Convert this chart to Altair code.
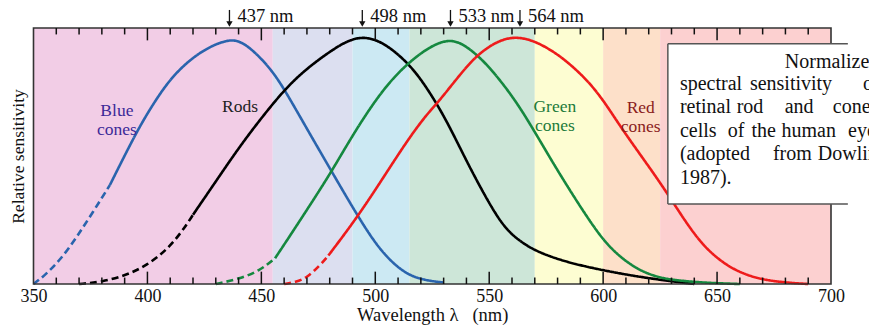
import altair as alt
import pandas as pd

FONT = "Liberation Serif"
X_DOMAIN = [350, 700]
Y_TOP = 1.036

# ---- colour bands (nm) ----
band_start = [350, 455, 490, 515, 570, 600, 625]
band_end = [455, 490, 515, 570, 600, 625, 700]
band_names = ["violet", "indigo", "blue", "green", "yellow", "orange", "red"]
band_colors = ["#f2cde6", "#dcdff0", "#cce9f3", "#cde6d8", "#fdfdd2", "#fde0c9", "#fcd0d0"]

# ---- sensitivity curves ----
cones = ["Blue", "Rods", "Green", "Red"]
line_colors = ["#2a64ad", "#000000", "#15883f", "#ee1b1b"]
label_colors = ["#3c2a98", "#222222", "#1b7a3a", "#8a1c1c"]

blue_wl = [350, 355, 362, 369, 376, 383.5, 390, 397, 404, 410, 417, 426, 436, 441, 445, 450, 455,
           460, 470, 481, 492, 502, 512, 520, 530]
blue_v = [0.0, 0.035, 0.10, 0.19, 0.29, 0.40, 0.52, 0.645, 0.75, 0.828, 0.895, 0.956, 0.992, 0.98,
          0.955, 0.912, 0.858, 0.79, 0.628, 0.453, 0.279, 0.135, 0.048, 0.017, 0.006]
blue_dash_end = 383.5

rods_wl = [370, 380, 391, 400, 408.5, 415, 420, 430, 440, 449.4, 460.4, 470, 481, 488, 494, 500, 506,
           513.7, 520, 527, 533, 541.5, 551.8, 558, 564, 571, 584, 600, 615, 629, 640]
rods_v = [0.0, 0.008, 0.036, 0.077, 0.138, 0.21, 0.28, 0.415, 0.55, 0.665, 0.79, 0.873, 0.947,
          0.985, 1.0, 0.99, 0.96, 0.90, 0.83, 0.73, 0.63, 0.47, 0.295, 0.215, 0.17, 0.13, 0.088,
          0.055, 0.03, 0.012, 0.0]
rods_dash_end = 420

green_wl = [430, 440, 449, 456, 464, 472.8, 480.8, 491.8, 503.5, 513.7, 524, 532, 538, 545, 551.8,
            562, 571, 578, 585, 593, 600, 607, 615, 622, 629, 640, 650, 660]
green_v = [0.0, 0.02, 0.052, 0.104, 0.215, 0.34, 0.455, 0.63, 0.79, 0.89, 0.962, 0.99, 0.975, 0.925,
           0.86, 0.738, 0.60, 0.49, 0.385, 0.27, 0.178, 0.112, 0.06, 0.033, 0.018, 0.008, 0.003, 0.0]
green_dash_end = 456

red_wl = [460, 465, 470, 475.7, 479.4, 491.8, 503.5, 513.7, 522, 527, 532.7, 537, 544.4, 551.8, 557,
          563, 571, 580, 586, 593, 600, 607, 615, 622, 629, 637, 644, 651, 658, 667, 678, 690]
red_v = [0.0, 0.008, 0.025, 0.075, 0.115, 0.266, 0.43, 0.576, 0.68, 0.73, 0.795, 0.845, 0.925, 0.972,
         0.993, 1.0, 0.98, 0.93, 0.885, 0.825, 0.745, 0.645, 0.54, 0.45, 0.355, 0.24, 0.155, 0.097,
         0.055, 0.023, 0.007, 0.0]
red_dash_end = 479.4

# ---- in-plot labels ----
label_text = ["Blue\ncones", "Rods", "Green\ncones", "Red\ncones"]
label_wl = [386.6, 440.6, 578.8, 616.5]
label_v = [0.70, 0.717, 0.718, 0.714]

# ---- peak annotations ----
peak_text = ["437 nm", "498 nm", "533 nm", "564 nm"]
peak_arrow_wl = [436, 494.3, 533, 563.5]

# ---- axis ticks ----
tick_values = list(range(360, 700, 10))
major_values = [400, 450, 500, 550, 600, 650]
axis_labels = [350, 400, 450, 500, 550, 600, 650, 700]

# ---- caption box ----
box_left, box_right, box_line_end = 628.4, 740, 707.4
box_bottom, box_top = 0.324, 0.972
box_words = ["Normalized",
             "spectral", "sensitivity", "of",
             "retinal", "rod", "and", "cone",
             "cells", "of", "the", "human", "eye",
             "(adopted", "from", "Dowling,",
             "1987)."]
box_word_wl = [679.75,
               633.7, 664.4, 714.0,
               633.7, 658.6, 679.7, 700.8,
               633.7, 654.7, 665.1, 678.3, 707.5,
               633.7, 674.5, 694.2,
               633.7]
box_word_line = [0, 1, 1, 1, 2, 2, 2, 2, 3, 3, 3, 3, 3, 4, 4, 4, 5]
box_line_v = [0.900, 0.808, 0.716, 0.621, 0.526, 0.429]

# ---------------------------------------------------------------
xs = alt.Scale(domain=X_DOMAIN, nice=False, zero=False)
ys = alt.Scale(domain=[0, Y_TOP], nice=False, zero=False)

x_axis = alt.Axis(
    values=axis_labels, format="d", title="Wavelength λ\u00a0\u00a0\u00a0(nm)",
    ticks=False, domain=False, grid=False, labelFlush=False, labelFont=FONT, labelFontSize=18,
    labelColor="#111", labelPadding=3, titleFont=FONT, titleFontSize=18.5,
    titleFontWeight="normal", titleColor="#111", titlePadding=0)
y_axis = alt.Axis(
    title="Relative sensitivity", labels=False, ticks=False, domain=False, grid=False,
    titleFont=FONT, titleFontSize=17.5, titleFontWeight="normal", titleColor="#111",
    titlePadding=6)


def X(field):
    return alt.X(field, type="quantitative", scale=xs, axis=x_axis)


def Y(field):
    return alt.Y(field, type="quantitative", scale=ys, axis=y_axis)


bands_df = pd.DataFrame({"start": band_start, "end": band_end, "band": band_names,
                         "y0": 0.0, "y1": Y_TOP})
bands = alt.Chart(bands_df).mark_rect(strokeWidth=0).encode(
    x=X("start"), x2="end", y=Y("y0"), y2="y1",
    color=alt.Color("band:N", scale=alt.Scale(domain=band_names, range=band_colors), legend=None),
)

rows = []
for name, wl, v, dash_end in [("Blue", blue_wl, blue_v, blue_dash_end),
                              ("Rods", rods_wl, rods_v, rods_dash_end),
                              ("Green", green_wl, green_v, green_dash_end),
                              ("Red", red_wl, red_v, red_dash_end)]:
    for w, val in zip(wl, v):
        if w <= dash_end:
            rows.append({"wl": w, "v": val, "cone": name, "part": "dashed"})
        if w >= dash_end:
            rows.append({"wl": w, "v": val, "cone": name, "part": "solid"})
curve_df = pd.DataFrame(rows)

curves = alt.Chart(curve_df).mark_line(strokeWidth=2.6, interpolate="basis").encode(
    x=X("wl"), y=Y("v"),
    color=alt.Color("cone:N", scale=alt.Scale(domain=cones, range=line_colors), legend=None),
    strokeDash=alt.StrokeDash("part:N", scale=alt.Scale(domain=["solid", "dashed"],
                                                         range=[[1, 0], [7, 4]]), legend=None),
    order="wl:Q",
)

frame = alt.Chart(pd.DataFrame({"x0": [X_DOMAIN[0]], "x1": [X_DOMAIN[1]],
                                "y0": [0.0], "y1": [Y_TOP]})).mark_rect(
    fillOpacity=0, stroke="#333333", strokeWidth=1.6).encode(
    x=X("x0"), x2="x1", y=Y("y0"), y2="y1")

tick_rows = []
for t in tick_values:
    ln = 0.05 if t in major_values else 0.026
    tick_rows.append({"wl": t, "a": 0.0, "b": ln})
    tick_rows.append({"wl": t, "a": Y_TOP, "b": Y_TOP - ln})
ticks = alt.Chart(pd.DataFrame(tick_rows)).mark_rule(color="#111", strokeWidth=1.5).encode(
    x=X("wl"), y=Y("a"), y2="b")

box = alt.Chart(pd.DataFrame({"x0": [box_left], "x1": [box_right],
                              "y0": [box_bottom], "y1": [box_top]})).mark_rect(
    color="white", strokeWidth=0).encode(
    x=X("x0"), x2="x1", y=Y("y0"), y2="y1")

edge_df = pd.DataFrame({
    "x": [box_left, box_left, box_left],
    "x2": [box_line_end, box_line_end, box_left],
    "y": [box_top, box_bottom, box_bottom],
    "y2": [box_top, box_bottom, box_top]})
edges = alt.Chart(edge_df).mark_rule(color="#555555", strokeWidth=1.5).encode(
    x=X("x"), x2="x2", y=Y("y"), y2="y2")

words_df = pd.DataFrame({"word": box_words, "wl": box_word_wl,
                         "v": [box_line_v[i] for i in box_word_line]})
words = alt.Chart(words_df).mark_text(align="left", baseline="middle", font=FONT,
                                      fontSize=20, color="#111").encode(
    x=X("wl"), y=Y("v"), text="word:N")

labels_df = pd.DataFrame({"text": label_text, "wl": label_wl, "v": label_v, "cone": cones})
labels = alt.Chart(labels_df).mark_text(align="center", baseline="middle", font=FONT,
                                        fontSize=17.5, lineBreak="\n", lineHeight=19).encode(
    x=X("wl"), y=Y("v"), text="text:N",
    color=alt.Color("cone:N", scale=alt.Scale(domain=cones, range=label_colors), legend=None))

peak_df = pd.DataFrame({"text": peak_text, "wl": peak_arrow_wl,
                        "a": 1.109, "b": 1.058, "head": 1.052, "tv": 1.062})
arrow_shaft = alt.Chart(peak_df).mark_rule(color="#111", strokeWidth=1.3).encode(
    x=X("wl"), y=Y("a"), y2="b")
arrow_head = alt.Chart(peak_df).mark_point(shape="triangle-down", filled=True, size=40,
                                           color="#111", opacity=1).encode(
    x=X("wl"), y=Y("head"))
peak_labels = alt.Chart(peak_df).mark_text(align="left", baseline="alphabetic", dx=8, font=FONT,
                                           fontSize=18.5, color="#111").encode(
    x=X("wl"), y=Y("tv"), text="text:N")

chart = alt.layer(
    bands, curves, frame, ticks, box, edges, words, labels, arrow_shaft, arrow_head, peak_labels
).resolve_scale(color="independent", strokeDash="independent").properties(
    width=797.5, height=256,
    padding={"left": 25.5, "top": 20, "right": 38, "bottom": 41},
    autosize=alt.AutoSizeParams(type="none"),
    background="white",
).configure_view(stroke="transparent")

chart.save("out.html", embed_options={"renderer": "svg", "actions": False})
